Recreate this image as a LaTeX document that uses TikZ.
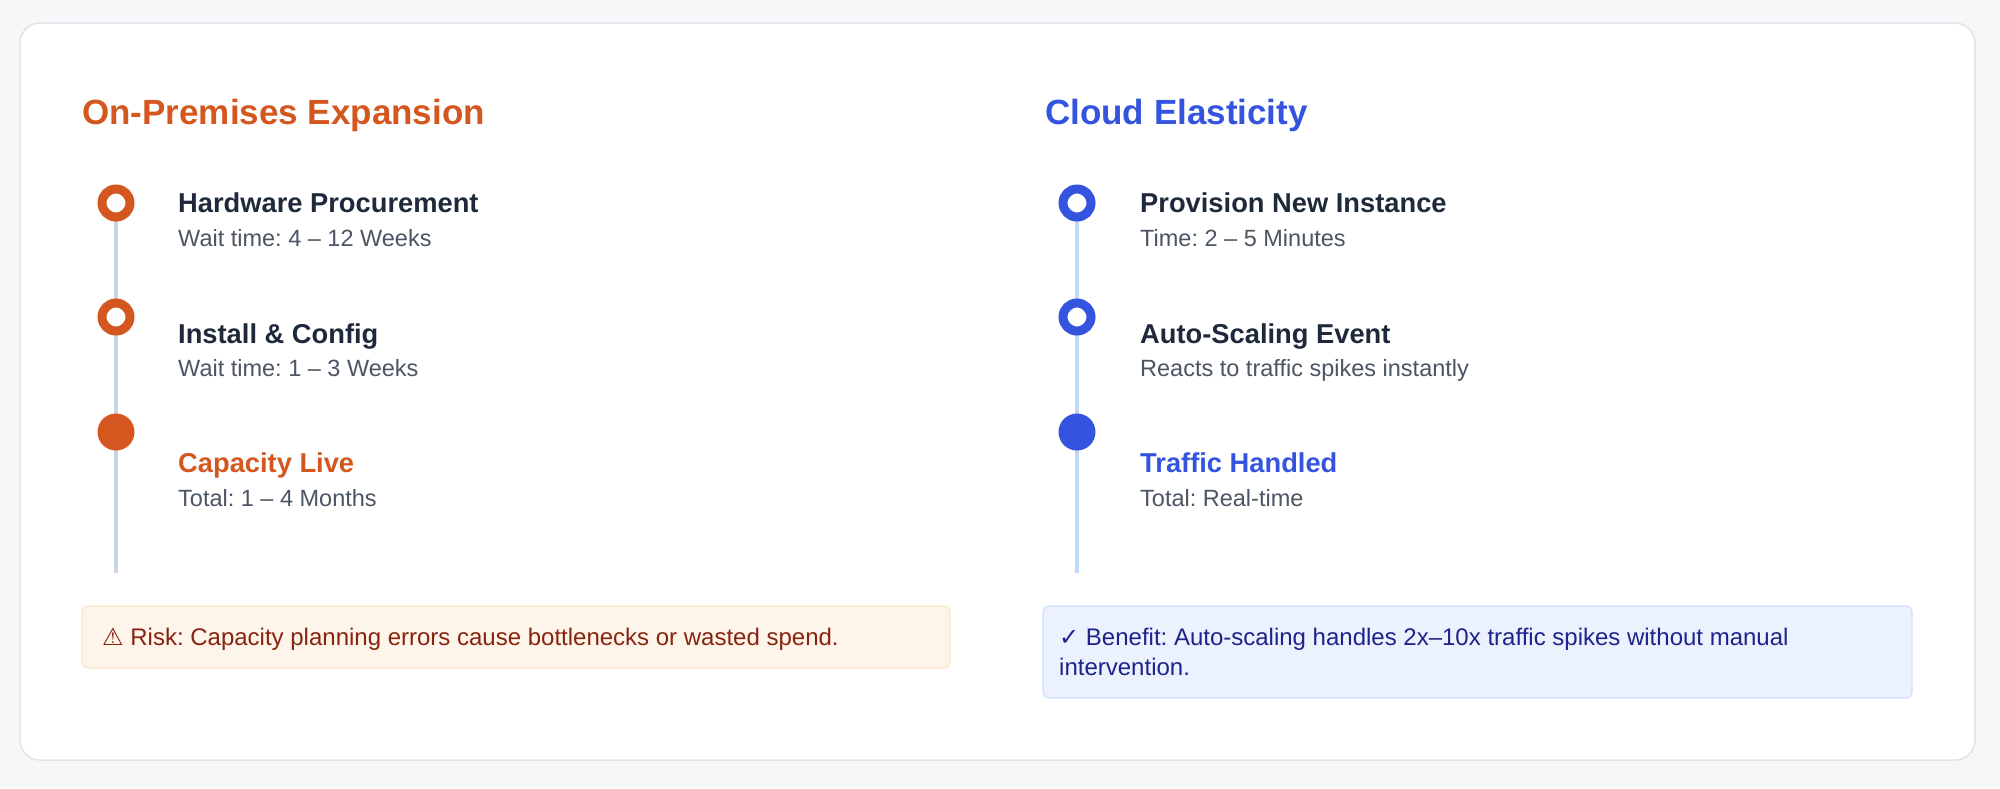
\documentclass[tikz,border=0pt]{standalone}
\usepackage{fontspec}
\setmainfont{Liberation Sans}
\newfontfamily\glyphfont{DejaVu Sans}
\usepackage{xcolor}
\usepackage{tikz}
\usetikzlibrary{positioning}
\frenchspacing

\definecolor{pagebg}{RGB}{246,247,249}
\definecolor{cardline}{RGB}{226,228,232}
\definecolor{premorange}{RGB}{212,87,32}
\definecolor{cloudblue}{RGB}{52,84,224}
\definecolor{headtext}{RGB}{30,41,59}
\definecolor{subtext}{RGB}{75,85,99}
\definecolor{premrail}{RGB}{203,213,225}
\definecolor{cloudrail}{RGB}{191,216,252}
\definecolor{riskfill}{RGB}{253,245,234}
\definecolor{riskline}{RGB}{251,228,200}
\definecolor{risktext}{RGB}{135,35,15}
\definecolor{gainfill}{RGB}{235,242,253}
\definecolor{gainline}{RGB}{210,224,250}
\definecolor{gaintext}{RGB}{30,35,140}

\begin{document}
\begin{tikzpicture}[x=1pt,y=-1pt,
	coltitle/.style={anchor=base west, inner sep=0pt, font=\fontsize{35}{40}\selectfont\bfseries},
	steptitle/.style={anchor=base west, inner sep=0pt, font=\fontsize{27.3}{30}\selectfont\bfseries, text=headtext},
	stepnote/.style={anchor=base west, inner sep=0pt, font=\fontsize{23.5}{26}\selectfont, text=subtext},
	ringdot/.style={circle, draw=#1, line width=9pt, fill=white, minimum size=28pt, inner sep=0pt},
	fulldot/.style={circle, fill=#1, minimum size=37pt, inner sep=0pt},
	rail/.style={line width=4pt, draw=#1},
	callnote/.style={anchor=base west, inner sep=0pt, font=\fontsize{24}{30}\selectfont},
]
	% page and card
	\fill[pagebg] (0,0) rectangle (2000,788);
	\draw[cardline, fill=white, line width=1.5pt, rounded corners=20pt] (20,23) rectangle (1975,760);

	% column titles
	\node[coltitle, text=premorange] (premtitle) at (82,124) {On-Premises Expansion};
	\node[coltitle, text=cloudblue] (cloudtitle) at (1045,124) {Cloud Elasticity};

	% rails
	\coordinate (premtop) at (116,203);
	\coordinate (premend) at (116,573);
	\coordinate (cloudtop) at (1077,203);
	\coordinate (cloudend) at (1077,573);
	\draw[rail=premrail] (premtop) -- (premend);
	\draw[rail=cloudrail] (cloudtop) -- (cloudend);

	% on-premises steps
	\node[ringdot=premorange] (premdot1) at (116,203) {};
	\node[ringdot=premorange] (premdot2) at (116,317) {};
	\node[fulldot=premorange] (premdot3) at (116,432) {};
	\node[steptitle] (premstep1) at (178,212) {Hardware Procurement};
	\node[stepnote] (premnote1) at (178,246) {Wait time: 4 – 12 Weeks};
	\node[steptitle] (premstep2) at (178,343) {Install \& Config};
	\node[stepnote] (premnote2) at (178,376) {Wait time: 1 – 3 Weeks};
	\node[steptitle, text=premorange] (premstep3) at (178,472) {Capacity Live};
	\node[stepnote] (premnote3) at (178,506) {Total: 1 – 4 Months};

	% cloud steps
	\node[ringdot=cloudblue] (clouddot1) at (1077,203) {};
	\node[ringdot=cloudblue] (clouddot2) at (1077,317) {};
	\node[fulldot=cloudblue] (clouddot3) at (1077,432) {};
	\node[steptitle] (cloudstep1) at (1140,212) {Provision New Instance};
	\node[stepnote] (cloudnote1) at (1140,246) {Time: 2 – 5 Minutes};
	\node[steptitle] (cloudstep2) at (1140,343) {Auto-Scaling Event};
	\node[stepnote] (cloudnote2) at (1140,376) {Reacts to traffic spikes instantly};
	\node[steptitle, text=cloudblue] (cloudstep3) at (1140,472) {Traffic Handled};
	\node[stepnote] (cloudnote3) at (1140,506) {Total: Real-time};

	% callouts
	\draw[riskline, fill=riskfill, line width=1.2pt, rounded corners=6pt] (82,606) rectangle (950,668);
	\draw[gainline, fill=gainfill, line width=1.2pt, rounded corners=6pt] (1043,606) rectangle (1912,698);
	\node[callnote, text=risktext] (risknote) at (102,645) {{\glyphfont ⚠} Risk: Capacity planning errors cause bottlenecks or wasted spend.};
	\node[callnote, text=gaintext] (gainnote) at (1059,645) {{\glyphfont ✓} Benefit: Auto-scaling handles 2x–10x traffic spikes without manual};
	\node[callnote, text=gaintext] (gainnoteb) at (1059,675) {intervention.};
\end{tikzpicture}
\end{document}
